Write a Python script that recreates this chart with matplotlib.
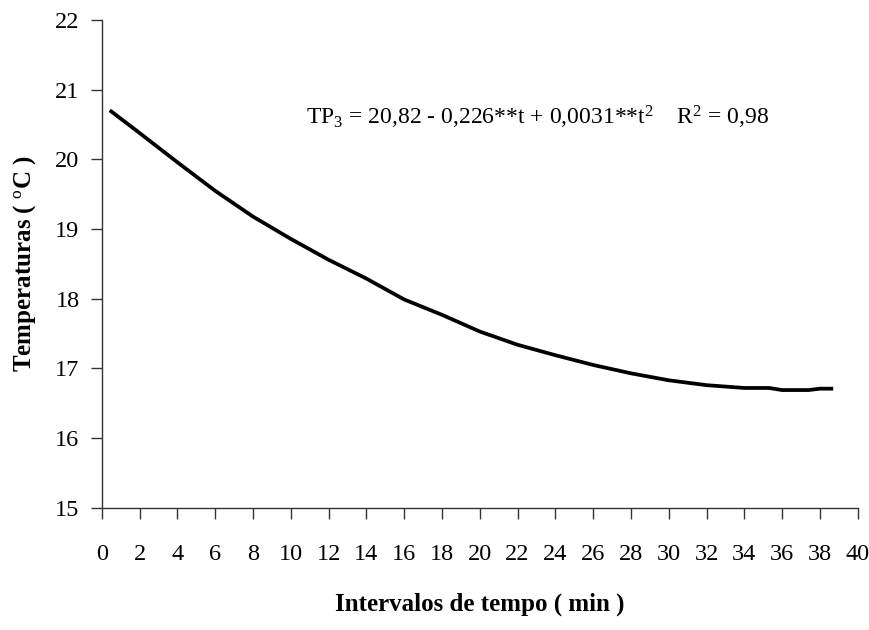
import matplotlib
matplotlib.use('Agg')
import matplotlib.pyplot as plt

# tempo (min) e temperatura
tempo = [0.5, 2, 4, 6, 8, 10, 12, 14, 16, 18, 20, 22, 24, 26, 28, 30, 32, 34, 35.3, 36, 37.4, 38, 38.6]
temperatura = [20.69, 20.38, 19.96, 19.55, 19.18, 18.86, 18.56, 18.29, 17.99, 17.77, 17.53, 17.34,
               17.19, 17.05, 16.93, 16.83, 16.76, 16.72, 16.72, 16.69, 16.69, 16.71, 16.71]

x_ticks = list(range(0, 41, 2))
y_ticks = list(range(15, 23))

plt.rcParams['font.family'] = ['Liberation Serif', 'DejaVu Serif']
plt.rcParams['mathtext.fontset'] = 'custom'
plt.rcParams['mathtext.rm'] = 'Liberation Serif'
plt.rcParams['mathtext.it'] = 'Liberation Serif:italic'

fig = plt.figure(figsize=(8.7, 6.3), dpi=100)
ax = fig.add_axes([0.117, 0.194, 0.869, 0.774])

ax.plot(tempo, temperatura, color='black', linewidth=2.7)

ax.set_xlim(0, 40)
ax.set_ylim(15, 22)
ax.set_xticks(x_ticks)
ax.set_yticks(y_ticks)
ax.spines['top'].set_visible(False)
ax.spines['right'].set_visible(False)
for s in ['left', 'bottom']:
    ax.spines[s].set_color('#333333')
    ax.spines[s].set_linewidth(1.0)
ax.tick_params(axis='x', direction='out', length=8, width=1, pad=18, labelsize=17.5, colors='#333333', labelcolor='black')
ax.tick_params(axis='y', direction='out', length=8, width=1, pad=8, labelsize=17.5, colors='#333333', labelcolor='black')

ax.set_xlabel('Intervalos de tempo ( min )', fontsize=18, fontweight='bold', labelpad=20)
ax.set_ylabel('Temperaturas ( $^{\\rm o}$C )', fontsize=18, fontweight='bold', labelpad=12)

ax.text(10.8, 20.6, 'TP$_3$ = 20,82 - 0,226**t + 0,0031**t$^2$    R$^2$ = 0,98',
        fontsize=17, va='center', ha='left')

fig.savefig('out.png', dpi=100)
